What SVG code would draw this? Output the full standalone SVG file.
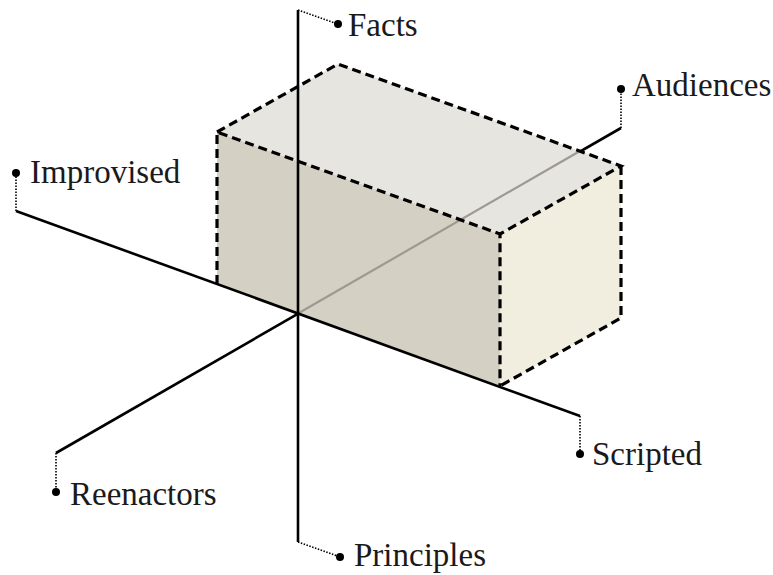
<svg xmlns="http://www.w3.org/2000/svg" width="773" height="575" viewBox="0 0 773 575">
<style>
.axis{stroke:#000;stroke-width:2.6;fill:none;stroke-linecap:butt}
.lead{stroke:#000;stroke-width:1.6;fill:none;stroke-dasharray:1.5 1.5}
.dash{stroke:#000;stroke-width:3.2;fill:none;stroke-dasharray:9 5}
.lbl{font-family:"Liberation Serif","DejaVu Serif",serif;font-size:33px;fill:#1a1a1a}
.dot{fill:#000}
</style>
<rect width="773" height="575" fill="#fff"/>
<g id="connectors">
<line class="axis" x1="56" y1="453" x2="621" y2="128"/>
</g>
<g id="box">
<polygon points="217,132 500,234 500,386 217,284" fill="#d4d0c4"/>
<polygon points="217,132 338,64 621,166 500,234" fill="#e6e5df"/>
<polygon points="500,234 621,166 621,318 500,386" fill="#f1eedf"/>
<line x1="298" y1="313.5" x2="580" y2="151" stroke="#9c9a92" stroke-width="2.2"/>
</g>
<g id="axes">
<line class="axis" x1="16" y1="211" x2="580" y2="416"/>
<line class="axis" x1="298" y1="10" x2="298" y2="542"/>
</g>
<g id="box-edges">
<polyline class="dash" points="217,284 217,132 500,234 500,386"/>
<polyline class="dash" points="217,132 338,64 621,166 500,234"/>
<polyline class="dash" points="621,166 621,318 500,386"/>
</g>
<g id="facts">
<line class="lead" x1="298" y1="10" x2="338" y2="24"/>
<circle class="dot" cx="338" cy="24" r="4"/>
<text class="lbl" x="348" y="36">Facts</text>
</g>
<g id="principles">
<line class="lead" x1="298" y1="542" x2="340" y2="557"/>
<circle class="dot" cx="340" cy="557" r="4"/>
<text class="lbl" x="354" y="566">Principles</text>
</g>
<g id="improvised">
<line class="lead" x1="16" y1="211" x2="16" y2="173"/>
<circle class="dot" cx="16" cy="173" r="4"/>
<text class="lbl" x="30" y="183">Improvised</text>
</g>
<g id="scripted">
<line class="lead" x1="580" y1="416" x2="580" y2="454"/>
<circle class="dot" cx="580" cy="454" r="4"/>
<text class="lbl" x="592" y="465">Scripted</text>
</g>
<g id="reenactors">
<line class="lead" x1="56" y1="453" x2="56" y2="492"/>
<circle class="dot" cx="56" cy="492" r="4"/>
<text class="lbl" x="70" y="505">Reenactors</text>
</g>
<g id="audiences">
<line class="lead" x1="621" y1="128" x2="621" y2="89"/>
<circle class="dot" cx="621" cy="89" r="4"/>
<text class="lbl" x="632" y="96">Audiences</text>
</g>
</svg>
